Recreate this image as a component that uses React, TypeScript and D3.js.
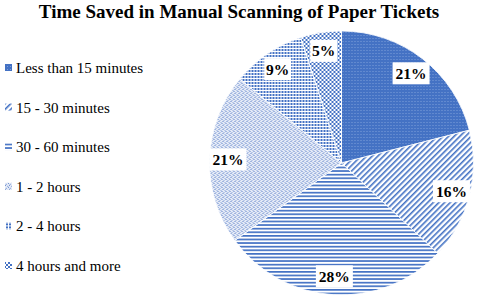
import React from "react";
import * as d3 from "d3";

const title = "Time Saved in Manual Scanning of Paper Tickets";
const categories = [
  "Less than 15 minutes",
  "15 - 30 minutes",
  "30 - 60 minutes",
  "1 - 2 hours",
  "2 - 4 hours",
  "4 hours and more",
];
const values = [21, 16, 28, 21, 9, 5];

const W = 477;
const H = 299;
const BLUE = "#4472C4";
const FONT = "'Liberation Serif', 'Times New Roman', serif";

function Patterns() {
  return (
    <defs>
      <pattern id="p0" width="3" height="3" patternUnits="userSpaceOnUse">
        <rect width="3" height="3" fill={BLUE} />
        <rect x="1" y="1" width="1" height="1" fill="#7e9fd9" />
      </pattern>
      <pattern id="p1" width="4" height="4" patternUnits="userSpaceOnUse" patternTransform="rotate(-45)">
        <rect width="4" height="4" fill="#fff" />
        <rect width="4" height="1.6" fill={BLUE} />
      </pattern>
      <pattern id="p2" width="4" height="3.6" patternUnits="userSpaceOnUse">
        <rect width="4" height="3.6" fill="#fff" />
        <rect width="4" height="1.7" fill={BLUE} />
      </pattern>
      <pattern id="p3" width="4" height="4" patternUnits="userSpaceOnUse">
        <rect width="4" height="4" fill="#e4eaf6" />
        <rect x="0" y="0" width="1" height="1" fill="#5d82c9" />
        <rect x="2" y="1" width="1" height="1" fill="#8ea8dc" />
        <rect x="1" y="2" width="1" height="1" fill="#5d82c9" />
        <rect x="3" y="3" width="1" height="1" fill="#8ea8dc" />
      </pattern>
      <pattern id="p4" width="3" height="3" patternUnits="userSpaceOnUse">
        <rect width="3" height="3" fill="#fff" />
        <rect x="0" y="0" width="2" height="2" fill={BLUE} />
      </pattern>
      <pattern id="p5" width="4" height="4" patternUnits="userSpaceOnUse">
        <rect width="4" height="4" fill="#fff" />
        <rect x="0" y="0" width="2" height="2" fill={BLUE} />
        <rect x="2" y="2" width="2" height="2" fill={BLUE} />
      </pattern>
    </defs>
  );
}

export default function App() {
  const cx = 341.5;
  const cy = 163;
  const R = 132;
  const pie = d3.pie<number>().sort(null).value((d) => d)(values);
  const arc = d3.arc<d3.PieArcDatum<number>>().innerRadius(0).outerRadius(R);
  const labelArc = d3
    .arc<d3.PieArcDatum<number>>()
    .innerRadius(R * 0.86)
    .outerRadius(R * 0.86);
  const total = d3.sum(values);
  const legendY = d3
    .scalePoint<string>()
    .domain(categories)
    .range([68, 266]);

  return (
    <svg
      width={W}
      height={H}
      style={{ position: "absolute", left: 0, top: 0, background: "#fff" }}
    >
      <Patterns />
      <rect width={W} height={H} fill="#fff" />
      <text
        x={239}
        y={18}
        textAnchor="middle"
        fontWeight="bold"
        fontSize={19}
        fontFamily={FONT}
        fill="#000"
      >
        {title}
      </text>
      <g transform={`translate(${cx},${cy})`}>
        {pie.map((d, i) => (
          <path key={i} d={arc(d) || ""} fill={`url(#p${i})`} stroke="#fff" strokeWidth={0.8} />
        ))}
        {pie.map((d, i) => {
          const [x, y] = labelArc.centroid(d);
          const txt = `${Math.round((d.value / total) * 100)}%`;
          const bw = txt.length * 10 + 7;
          return (
            <g key={`l${i}`} transform={`translate(${x},${y})`}>
              <rect x={-bw / 2} y={-11} width={bw} height={22} fill="#fff" />
              <text
                textAnchor="middle"
                y={5.5}
                fontWeight="bold"
                fontSize={15.5}
                fontFamily={FONT}
                fill="#000"
              >
                {txt}
              </text>
            </g>
          );
        })}
      </g>
      <g>
        {categories.map((c, i) => {
          const y = legendY(c) as number;
          return (
            <g key={c} transform={`translate(0,${y})`}>
              <rect x={5} y={-4} width={7} height={7} fill={`url(#p${i})`} />
              <text x={16} y={5} fontSize={15} fontFamily={FONT} fill="#000">
                {c}
              </text>
            </g>
          );
        })}
      </g>
    </svg>
  );
}
